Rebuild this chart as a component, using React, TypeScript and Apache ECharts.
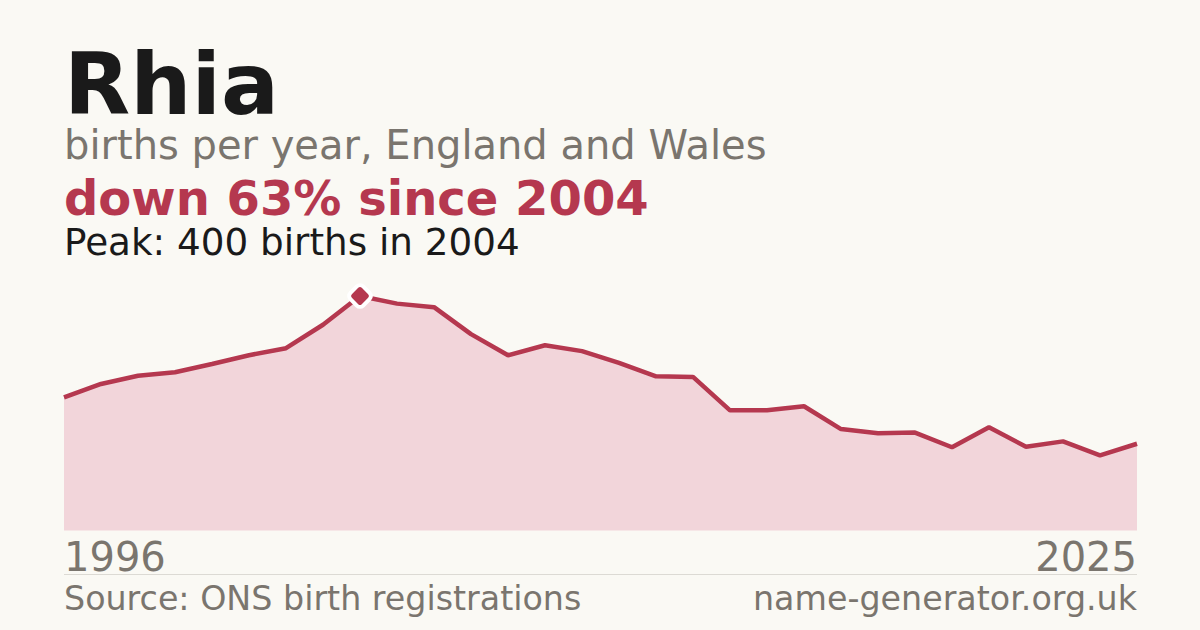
import React, { useEffect, useRef } from "react";
import * as echarts from "echarts";

const years = [
  "1996", "1997", "1998", "1999", "2000", "2001", "2002", "2003", "2004", "2005",
  "2006", "2007", "2008", "2009", "2010", "2011", "2012", "2013", "2014", "2015",
  "2016", "2017", "2018", "2019", "2020", "2021", "2022", "2023", "2024", "2025",
];
const births = [
  227, 250, 264, 270, 284, 299, 311, 351, 400, 387,
  381, 335, 299, 316, 306, 286, 263, 262, 205, 205,
  212, 173, 166, 167, 142, 176, 143, 152, 128, 148,
];
const peakIndex = 8;

const FONT = "'DejaVu Sans', sans-serif";
const ACCENT = "#b5384f";
const GREY = "#7a756e";

const App: React.FC = () => {
  const chartRef = useRef<HTMLDivElement>(null);

  useEffect(() => {
    document.body.style.margin = "0";
    if (!chartRef.current) return;
    const myChart = echarts.init(chartRef.current, undefined, { renderer: "svg" });
    const last = years.length - 1;

    const option: echarts.EChartsOption = {
      animation: false,
      backgroundColor: "#faf9f4",
      grid: { left: 64, right: 63, top: 296, bottom: 99.5 },
      xAxis: {
        type: "category",
        data: years,
        boundaryGap: false,
        axisLine: { show: false },
        axisTick: { show: false },
        splitLine: { show: false },
        axisLabel: {
          interval: (i: number) => i === 0 || i === last,
          alignMinLabel: "left",
          alignMaxLabel: "right",
          color: GREY,
          fontFamily: FONT,
          fontSize: 40,
          lineHeight: 40,
          margin: 6,
        },
      },
      yAxis: { type: "value", min: 0, max: 400, show: false },
      graphic: [
        {
          type: "text",
          x: 64,
          y: 84,
          style: { text: "Rhia", font: `bold 86px ${FONT}`, fill: "#1a1a1a", verticalAlign: "middle", lineHeight: 66 },
        },
        {
          type: "text",
          x: 64,
          y: 145,
          style: { text: "births per year, England and Wales", font: `40px ${FONT}`, fill: GREY, verticalAlign: "middle", lineHeight: 36 },
        },
        {
          type: "text",
          x: 64,
          y: 198,
          style: { text: "down 63% since 2004", font: `bold 48px ${FONT}`, fill: ACCENT, verticalAlign: "middle", lineHeight: 40 },
        },
        {
          type: "text",
          x: 64,
          y: 242,
          style: { text: "Peak: 400 births in 2004", font: `37.3px ${FONT}`, fill: "#1a1a1a", verticalAlign: "middle", lineHeight: 34 },
        },
        {
          type: "line",
          shape: { x1: 64, y1: 574.5, x2: 1137, y2: 574.5 },
          style: { stroke: "#dcdad4", lineWidth: 1 },
        },
        {
          type: "text",
          x: 64,
          y: 598,
          style: { text: "Source: ONS birth registrations", font: `33.3px ${FONT}`, fill: GREY, verticalAlign: "middle", lineHeight: 32 },
        },
        {
          type: "text",
          x: 1137,
          y: 598,
          style: { text: "name-generator.org.uk", font: `33.3px ${FONT}`, fill: GREY, verticalAlign: "middle", align: "right", lineHeight: 32 },
        },
      ],
      series: [
        {
          type: "line",
          data: births,
          symbol: "none",
          lineStyle: { color: ACCENT, width: 4.5 },
          areaStyle: { color: "#f2d5da", opacity: 1 },
          markPoint: {
            symbol: "roundRect",
            symbolSize: 18,
            symbolRotate: 45,
            z: 10,
            itemStyle: { color: ACCENT, borderColor: "#ffffff", borderWidth: 4 },
            label: { show: false },
            data: [{ coord: [peakIndex, births[peakIndex]] }],
          },
        },
      ],
    };

    myChart.setOption(option);
    return () => {
      myChart.dispose();
    };
  }, []);

  return <div ref={chartRef} style={{ width: 1200, height: 630 }} />;
};

export default App;
